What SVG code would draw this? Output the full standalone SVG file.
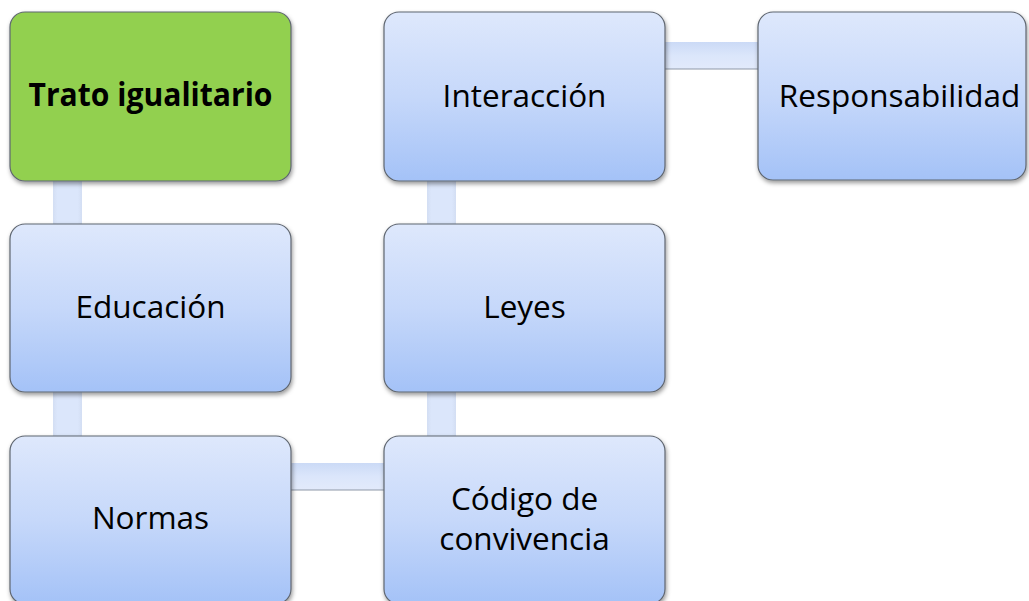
<svg xmlns="http://www.w3.org/2000/svg" width="1029" height="601" viewBox="0 0 1029 601">
<defs>
<linearGradient id="boxG" x1="0" y1="0" x2="0" y2="1">
<stop offset="0" stop-color="#dee8fc"/>
<stop offset="0.5" stop-color="#c6d8fa"/>
<stop offset="1" stop-color="#a4c2f7"/>
</linearGradient>
<linearGradient id="hConn" x1="0" y1="0" x2="0" y2="1">
<stop offset="0" stop-color="#cbdaf6"/>
<stop offset="0.5" stop-color="#dbe6fb"/>
<stop offset="1" stop-color="#e2eafb"/>
</linearGradient>
<linearGradient id="vConn" x1="0" y1="0" x2="1" y2="0">
<stop offset="0" stop-color="#d3def3"/>
<stop offset="0.15" stop-color="#dbe6fb"/>
<stop offset="0.85" stop-color="#dbe6fb"/>
<stop offset="1" stop-color="#d3def3"/>
</linearGradient>
<filter id="sh" x="-10%" y="-10%" width="125%" height="125%">
<feDropShadow dx="1" dy="2.5" stdDeviation="2" flood-color="#000" flood-opacity="0.4"/>
</filter>
</defs>
<style>
.box{fill:url(#boxG);stroke:#5f6670;stroke-width:1.2;filter:url(#sh)}
.green{fill:#92d050;stroke:#5f6670;stroke-width:1.2;filter:url(#sh)}
.lbl{font-family:"Open Sans","Liberation Sans",sans-serif;font-size:31.5px;fill:#000;text-anchor:middle}
.bold{font-weight:bold}
.hc{fill:url(#hConn)}
.hline{stroke:#8e98a8;stroke-width:1.2}
.vc{fill:url(#vConn)}
</style>
<g id="connectors">
<rect class="vc" x="53" y="181" width="29" height="44"/>
<rect class="vc" x="53" y="392" width="29" height="45"/>
<rect class="vc" x="427" y="181" width="29" height="44"/>
<rect class="vc" x="427" y="392" width="29" height="45"/>
<rect class="hc" x="291" y="463" width="94" height="27"/>
<line class="hline" x1="291" y1="490" x2="385" y2="490"/>
<rect class="hc" x="665" y="42" width="94" height="27"/>
<line class="hline" x1="665" y1="69" x2="759" y2="69"/>
</g>
<g id="node-trato">
<rect class="green" x="10" y="12" width="281" height="169" rx="15"/>
<text class="lbl bold" x="150.5" y="106" textLength="244" lengthAdjust="spacingAndGlyphs">Trato igualitario</text>
</g>
<g id="node-educacion">
<rect class="box" x="10" y="224" width="281" height="168" rx="15"/>
<text class="lbl" x="150.5" y="318">Educación</text>
</g>
<g id="node-normas">
<rect class="box" x="10" y="436" width="281" height="168" rx="15"/>
<text class="lbl" x="150.5" y="529">Normas</text>
</g>
<g id="node-codigo">
<rect class="box" x="384" y="436" width="281" height="168" rx="15"/>
<text class="lbl" x="524.5" y="510">Código de</text>
<text class="lbl" x="524.5" y="550">convivencia</text>
</g>
<g id="node-leyes">
<rect class="box" x="384" y="224" width="281" height="168" rx="15"/>
<text class="lbl" x="524.5" y="318">Leyes</text>
</g>
<g id="node-interaccion">
<rect class="box" x="384" y="12" width="281" height="169" rx="15"/>
<text class="lbl" x="524.5" y="107">Interacción</text>
</g>
<g id="node-responsabilidad">
<rect class="box" x="758" y="12" width="268" height="168" rx="15"/>
<text class="lbl" x="899.5" y="107">Responsabilidad</text>
</g>
</svg>
